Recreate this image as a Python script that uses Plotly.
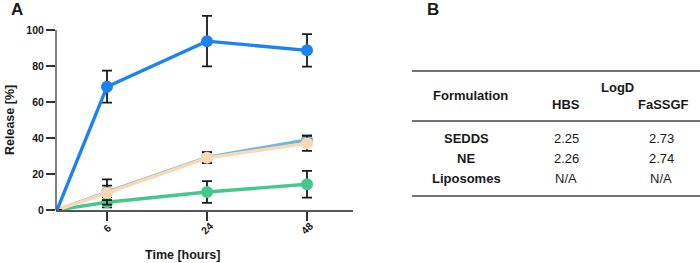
import plotly.graph_objects as go

# ---- data ----
time_labels = ["0", "6", "24", "48"]
x_pos = [0, 1, 3, 5]  # visual slot of each time point on the axis

series_names = ["SEDDS", "NE", "Liposomes", "Control"]
blue_vals = [0, 68.5, 93.8, 88.7]
blue_err = [0, 8.9, 14.0, 9.0]
lightblue_vals = [0, 10.0, 29.2, 39.0]
lightblue_err = [0, 7.0, 3.0, 2.5]
peach_vals = [0, 9.5, 29.0, 37.0]
peach_err = [0, 4.0, 3.0, 4.2]
green_vals = [0, 4.3, 10.0, 14.3]
green_err = [0, 2.8, 6.0, 7.4]

y_ticks = [0, 20, 40, 60, 80, 100]

table_header = ["Formulation", "HBS", "FaSSGF"]
table_group = "LogD"
table_rows = ["SEDDS", "NE", "Liposomes"]
table_hbs = ["2.25", "2.26", "N/A"]
table_fassgf = ["2.73", "2.74", "N/A"]

FONT = "Liberation Sans, Arial, sans-serif"
L, R, T, B = 56, 347, 12, 53
W, H = 700, 263

fig = go.Figure()

def add_series(vals, err, color, name):
    fig.add_trace(go.Scatter(
        x=x_pos, y=vals, name=name, mode="lines+markers",
        line=dict(color=color, width=3.4),
        marker=dict(color=color, size=[0] + [12] * (len(vals) - 1), opacity=1,
                    line=dict(width=0)),
        error_y=dict(type="data", array=err, visible=True, color="#1a1a1a",
                     thickness=1.8, width=5),
        cliponaxis=False, showlegend=False,
    ))

add_series(green_vals, green_err, "#45c88d", series_names[3])
add_series(lightblue_vals, lightblue_err, "#6db6e2", series_names[1])
add_series(peach_vals, peach_err, "#fcd8b2", series_names[2])
add_series(blue_vals, blue_err, "#1b82f1", series_names[0])

fig.update_layout(
    width=W, height=H,
    margin=dict(l=L, r=R, t=T, b=B),
    paper_bgcolor="white", plot_bgcolor="white",
    font=dict(family=FONT, color="#1a1a1a"),
    xaxis=dict(range=[-0.02, 5.92], showgrid=False, zeroline=False,
               showline=True, linecolor="#555", linewidth=1.5,
               tickvals=x_pos[1:], ticktext=["", "", ""],
               ticks="outside", ticklen=9, tickcolor="#333", tickwidth=1.5),
    yaxis=dict(range=[0, 110], showgrid=False, zeroline=False, showline=False,
               tickvals=y_ticks, ticks="outside", ticklen=9, tickcolor="#333",
               tickwidth=1.5,
               tickfont=dict(size=10.5, family=FONT, weight="bold", color="#1a1a1a")),
)

# y-axis line only up to 100
fig.add_shape(type="line", xref="paper", yref="y", x0=0, x1=0, y0=0, y1=100,
              line=dict(color="#555", width=1.5))

# rotated x tick labels
for xp, lab in zip(x_pos[1:], time_labels[1:]):
    fig.add_annotation(x=xp, y=0, xref="x", yref="y", yshift=-18, text=lab,
                       showarrow=False, textangle=-45,
                       font=dict(size=10.5, family=FONT, weight="bold"))

def px(xp, yp):
    return (xp - L) / (W - L - R), (H - B - yp) / (H - T - B)

def add_text(xp, yp, text, size, bold=True, angle=0, anchor="center"):
    ax, ay = px(xp, yp)
    fig.add_annotation(x=ax, y=ay, xref="paper", yref="paper", text=text,
                       showarrow=False, textangle=angle, xanchor=anchor, yanchor="middle",
                       font=dict(size=size, family=FONT, weight="bold" if bold else "normal",
                                 color="#1a1a1a"))

add_text(182, 255, "Time [hours]", 12.5)
add_text(10, 120, "Release [%]", 12.5, angle=-90)
add_text(17, 9, "A", 17)
add_text(433, 9, "B", 17)

# table
def add_line(x0, x1, yp):
    a0, b = px(x0, yp)
    a1, _ = px(x1, yp)
    fig.add_shape(type="line", xref="paper", yref="paper", x0=a0, x1=a1, y0=b, y1=b,
                  line=dict(color="#444", width=1.6))

add_line(412, 700, 71)
add_line(412, 700, 121)
add_line(412, 700, 196)

TS = 13
add_text(470, 96, table_header[0], TS)
add_text(617, 87, table_group, TS)
add_text(566, 104, table_header[1], TS)
add_text(663, 104, table_header[2], TS)
row_y = [138, 158, 178]
for ry, r, h, f in zip(row_y, table_rows, table_hbs, table_fassgf):
    add_text(466, ry, r, TS)
    add_text(566, ry, h, TS, bold=False)
    add_text(661, ry, f, TS, bold=False)

fig.write_html("out.html")
